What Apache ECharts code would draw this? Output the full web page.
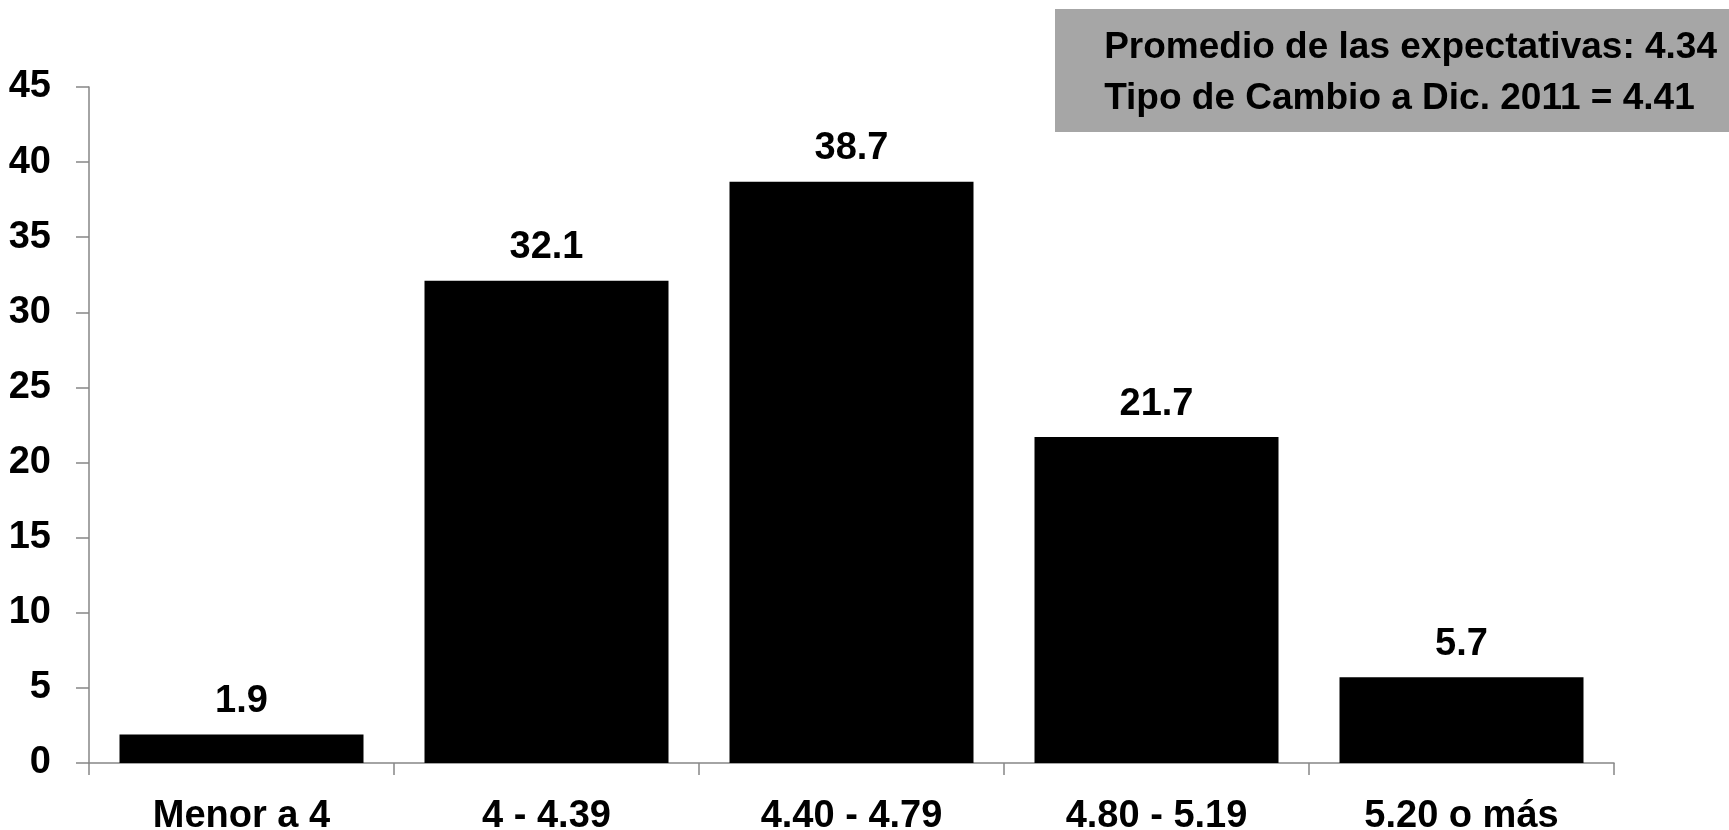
<!DOCTYPE html>
<html>
<head>
<meta charset="utf-8">
<script src="https://cdn.jsdelivr.net/npm/echarts@6/dist/echarts.min.js"></script>
<style>
html,body{margin:0;padding:0;background:#fff;}
#c{width:1729px;height:830px;}
</style>
</head>
<body>
<div id="c"></div>
<script>
var categories = ['Menor a 4', '4 - 4.39', '4.40 - 4.79', '4.80 - 5.19', '5.20 o más'];
var values = [1.9, 32.1, 38.7, 21.7, 5.7];
var yTicks = [0, 5, 10, 15, 20, 25, 30, 35, 40, 45];
var noteLines = ['Promedio de las expectativas: 4.34', 'Tipo de Cambio a Dic. 2011 = 4.41'];

var FONT = '"Liberation Sans", Arial, sans-serif';
var chart = echarts.init(document.getElementById('c'), null, {renderer: 'canvas'});
chart.setOption({
  animation: false,
  backgroundColor: '#ffffff',
  grid: {left: 89, right: 115, top: 87, bottom: 67, containLabel: false, outerBoundsMode: 'none'},
  xAxis: {
    type: 'category',
    data: categories,
    axisLine: {show: true, lineStyle: {color: '#868686', width: 1.5}},
    axisTick: {show: true, length: 12, lineStyle: {color: '#868686', width: 1.5}},
    axisLabel: {color: '#000', fontFamily: FONT, fontWeight: 'bold', fontSize: 38, margin: 35}
  },
  yAxis: {
    type: 'value',
    min: yTicks[0],
    max: yTicks[yTicks.length - 1],
    interval: yTicks[1] - yTicks[0],
    splitLine: {show: false},
    axisLine: {show: true, lineStyle: {color: '#868686', width: 1.5}},
    axisTick: {show: true, length: 13, lineStyle: {color: '#868686', width: 1.5}},
    axisLabel: {color: '#000', fontFamily: FONT, fontWeight: 'bold', fontSize: 38, margin: 38}
  },
  series: [{
    type: 'bar',
    data: values,
    barCategoryGap: '20%',
    itemStyle: {color: '#000000'},
    label: {
      show: true,
      position: 'top',
      distance: 14,
      color: '#000',
      fontFamily: FONT,
      fontWeight: 'bold',
      fontSize: 38,
      formatter: function (p) { return p.value.toFixed(1); }
    }
  }],
  graphic: [
    {type: 'rect', left: 1055, top: 9, shape: {width: 680, height: 123}, style: {fill: '#a6a6a6'}, z: 10},
    {type: 'text', right: 12, top: 22, z: 11,
      style: {text: noteLines.join('\n'), fill: '#000', font: 'bold 37px ' + FONT, align: 'right', lineHeight: 51}}
  ]
});
</script>
</body>
</html>
